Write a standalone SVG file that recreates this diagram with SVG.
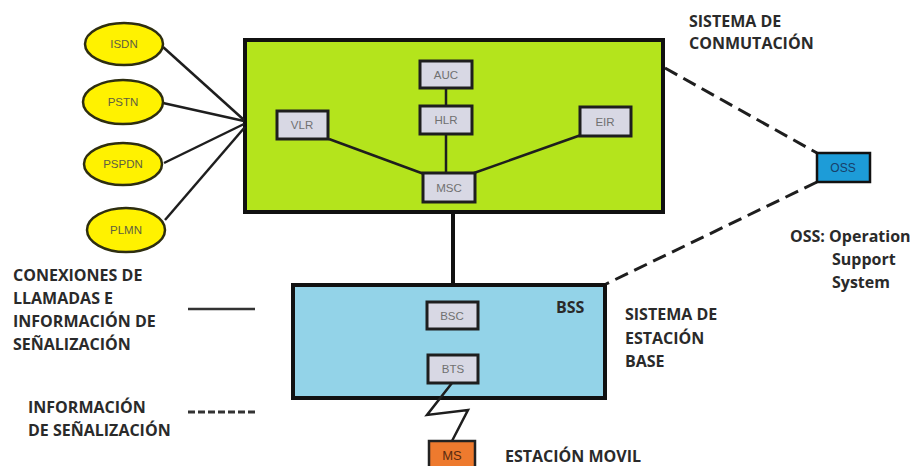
<svg xmlns="http://www.w3.org/2000/svg" width="917" height="466" viewBox="0 0 917 466">
<style>
.lbl{font-family:"Open Sans","Liberation Sans",sans-serif;font-weight:700;font-size:16px;fill:#2a2a2a}
.sm{font-family:"Liberation Sans",Arial,sans-serif;font-size:11.5px;fill:#707070;text-anchor:middle}
.ell{fill:#FFF200;stroke:#2e2e10;stroke-width:2.5}
.box{fill:#D8D8E4;stroke:#1e1e1e;stroke-width:3}
.ln{stroke:#1e1e1e;stroke-width:2.5;fill:none}
.dash{stroke:#1e1e1e;stroke-width:3;fill:none;stroke-dasharray:14,7}
</style>
<rect width="917" height="466" fill="#ffffff"/>
<g id="conmutacion">
<rect x="245" y="40" width="418" height="172" fill="#B4E41C" stroke="#111" stroke-width="4"/>
</g>
<g id="bss">
<rect x="293" y="285" width="312" height="113" fill="#93D3E8" stroke="#111" stroke-width="4"/>
<text class="lbl" x="556" y="313">BSS</text>
</g>
<g id="connectors">
<line class="ln" x1="163" y1="47" x2="244" y2="120"/>
<line class="ln" x1="163" y1="103" x2="244" y2="121"/>
<line class="ln" x1="164" y1="163" x2="244" y2="124"/>
<line class="ln" x1="165" y1="220" x2="245" y2="127"/>
<line class="ln" x1="446" y1="88" x2="446" y2="106"/>
<line class="ln" x1="446" y1="134" x2="446" y2="173"/>
<line class="ln" x1="329" y1="139" x2="424" y2="174"/>
<line class="ln" x1="581" y1="135" x2="474" y2="173"/>
<line x1="453" y1="214" x2="453" y2="283" stroke="#111" stroke-width="4"/>
<polyline class="ln" points="452,383 427,415 468,410 452,441"/>
<line class="dash" x1="665" y1="68" x2="817" y2="153"/>
<line class="dash" x1="817" y1="182" x2="606" y2="284"/>
<line x1="188" y1="309" x2="255" y2="309" stroke="#333" stroke-width="2.5"/>
<line x1="188" y1="412" x2="256" y2="412" stroke="#333" stroke-width="3" stroke-dasharray="7,3"/>
</g>
<g id="isdn"><ellipse class="ell" cx="124" cy="44" rx="39" ry="21"/><text class="sm" x="124" y="48" style="fill:#606040">ISDN</text></g>
<g id="pstn"><ellipse class="ell" cx="123" cy="102" rx="40" ry="22"/><text class="sm" x="123" y="106" style="fill:#606040">PSTN</text></g>
<g id="pspdn"><ellipse class="ell" cx="123" cy="164" rx="39" ry="21"/><text class="sm" x="123" y="168" style="fill:#606040">PSPDN</text></g>
<g id="plmn"><ellipse class="ell" cx="126" cy="230" rx="39" ry="22"/><text class="sm" x="126" y="234" style="fill:#606040">PLMN</text></g>
<g id="auc"><rect class="box" x="420" y="61" width="52" height="27"/><text class="sm" x="446" y="79">AUC</text></g>
<g id="hlr"><rect class="box" x="420" y="106" width="52" height="28"/><text class="sm" x="446" y="124">HLR</text></g>
<g id="vlr"><rect class="box" x="277" y="111" width="51" height="28"/><text class="sm" x="302" y="129">VLR</text></g>
<g id="eir"><rect class="box" x="580" y="107" width="51" height="29"/><text class="sm" x="605" y="126">EIR</text></g>
<g id="msc"><rect class="box" x="423" y="173" width="52" height="29"/><text class="sm" x="449" y="192">MSC</text></g>
<g id="bsc"><rect class="box" x="427" y="302" width="51" height="27"/><text class="sm" x="452" y="320">BSC</text></g>
<g id="bts"><rect class="box" x="428" y="355" width="50" height="28"/><text class="sm" x="453" y="373">BTS</text></g>
<g id="oss"><rect x="817" y="153" width="53" height="29" fill="#1D9CD8" stroke="#111" stroke-width="2.5"/><text class="sm" x="843" y="172" style="fill:#17406a;font-size:12px">OSS</text></g>
<g id="ms"><rect x="429" y="441" width="46" height="27" fill="#EE7A2E" stroke="#222" stroke-width="2.5"/><text class="sm" x="452" y="460" style="fill:#5a2a10;font-size:13px">MS</text></g>
<g id="labels">
<text class="lbl" x="689" y="27">SISTEMA DE</text>
<text class="lbl" x="689" y="49">CONMUTACIÓN</text>
<text class="lbl" x="790" y="242">OSS: Operation</text>
<text class="lbl" x="832" y="265">Support</text>
<text class="lbl" x="832" y="288">System</text>
<text class="lbl" x="625" y="320">SISTEMA DE</text>
<text class="lbl" x="625" y="344">ESTACIÓN</text>
<text class="lbl" x="625" y="367">BASE</text>
<text class="lbl" x="505" y="462">ESTACIÓN MOVIL</text>
<text class="lbl" x="13" y="281">CONEXIONES DE</text>
<text class="lbl" x="13" y="304">LLAMADAS E</text>
<text class="lbl" x="13" y="327">INFORMACIÓN DE</text>
<text class="lbl" x="13" y="350">SEÑALIZACIÓN</text>
<text class="lbl" x="28" y="413">INFORMACIÓN</text>
<text class="lbl" x="28" y="436">DE SEÑALIZACIÓN</text>
</g>
</svg>
